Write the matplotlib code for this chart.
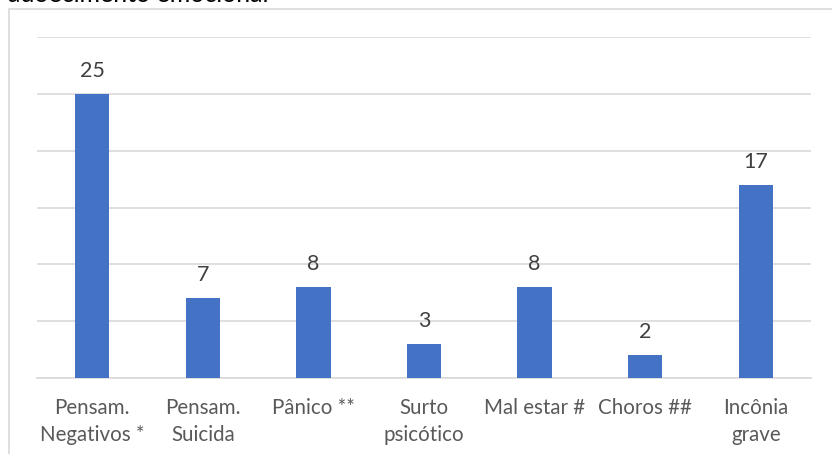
import matplotlib.pyplot as plt
from matplotlib.patches import Rectangle

plt.rcParams['font.family'] = ['Lato', 'DejaVu Sans']

categories = ["Pensam.\nNegativos *", "Pensam.\nSuicida", "Pânico **", "Surto\npsicótico",
              "Mal estar #", "Choros ##", "Incônia\ngrave"]
values = [25, 7, 8, 3, 8, 2, 17]

bar_color = "#4472C4"
grid_color = "#D9D9D9"
text_color = "#595959"

fig = plt.figure(figsize=(8.32, 4.54), dpi=100)
ax = fig.add_axes([37 / 832, 1 - 378 / 454, 774 / 832, 341 / 454])

x = range(len(categories))
bars = ax.bar(x, values, width=0.31, color=bar_color, zorder=3)
for b, v in zip(bars, values):
    ax.annotate(str(v), (b.get_x() + b.get_width() / 2, v), xytext=(0, 9.5),
                textcoords="offset points", ha="center", va="bottom",
                fontsize=15.5, color="#404040")

ax.set_xlim(-0.5, len(categories) - 0.5)
ax.set_ylim(0, 30)
ax.set_yticks(range(0, 31, 5))
ax.yaxis.grid(True, color=grid_color, lw=1.2, zorder=0)
ax.tick_params(axis="y", left=False, labelleft=False)
ax.tick_params(axis="x", bottom=False, pad=11)
ax.set_xticks(list(x))
ax.set_xticklabels(categories, fontsize=14.8, color=text_color, linespacing=1.4)
for side in ["left", "right", "top"]:
    ax.spines[side].set_visible(False)
ax.spines["bottom"].set_color(grid_color)
ax.spines["bottom"].set_linewidth(1.2)

# chart frame, runs off the right and bottom edges
fig.patches.append(Rectangle((8.5 / 832, -0.2), 1.2, 1.2 - 9 / 454,
                             transform=fig.transFigure, fill=False,
                             edgecolor=grid_color, lw=1.2))

# caption line above the chart, mostly cut off
fig.text(8 / 832, 1 - 2.5 / 454, "adoecimento emocional", fontsize=18,
         color="black", ha="left", va="baseline")

fig.savefig("out.png", dpi=100)
